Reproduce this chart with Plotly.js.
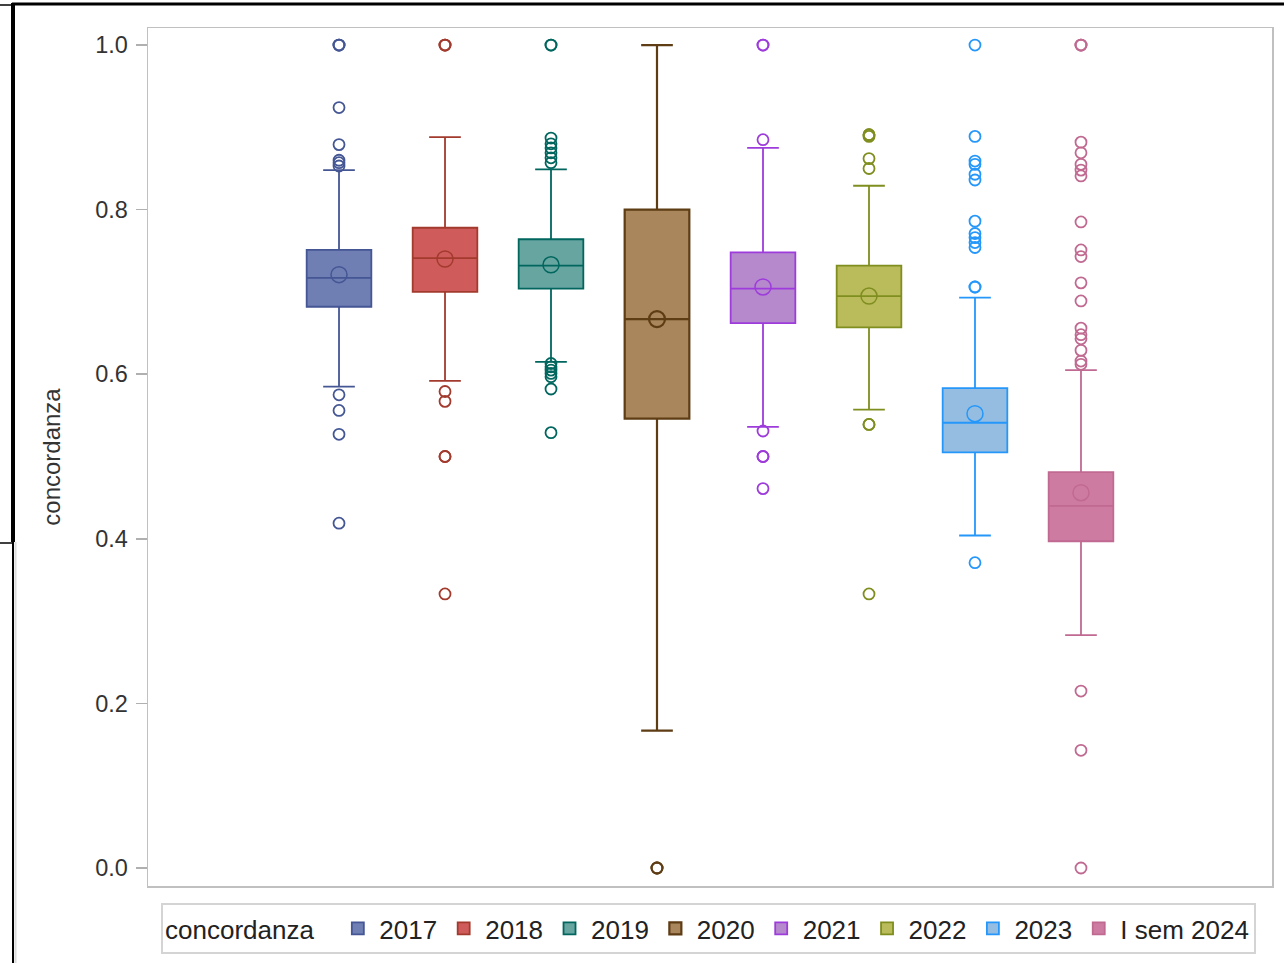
<!DOCTYPE html>
<html>
<head>
<meta charset="utf-8">
<script src="https://cdn.plot.ly/plotly-3.0.1.min.js"></script>
<style>
  html, body { margin: 0; padding: 0; background: #fff; }
  #chart { width: 1284px; height: 963px; }
</style>
</head>
<body>
<div id="chart"></div>
<script>
// Groups (one box per period)
const years = ['2017', '2018', '2019', '2020', '2021', '2022', '2023', 'I sem 2024'];

// Box statistics per group
const q1        = [0.682, 0.700, 0.704, 0.546, 0.662, 0.657, 0.505, 0.397];
const median    = [0.717, 0.741, 0.732, 0.667, 0.704, 0.695, 0.541, 0.440];
const q3        = [0.751, 0.778, 0.764, 0.800, 0.748, 0.732, 0.583, 0.481];
const lowFence  = [0.585, 0.592, 0.615, 0.167, 0.536, 0.557, 0.404, 0.283];
const highFence = [0.848, 0.888, 0.849, 1.000, 0.875, 0.829, 0.693, 0.605];
const means     = [0.721, 0.740, 0.733, 0.667, 0.706, 0.695, 0.552, 0.456];

// Outlying observations per group
const out2017 = [1.0, 1.0, 1.0, 0.924, 0.879, 0.860, 0.857, 0.853, 0.575, 0.556, 0.527, 0.419];
const out2018 = [1.0, 1.0, 1.0, 0.579, 0.567, 0.500, 0.500, 0.333];
const out2019 = [1.0, 1.0, 0.887, 0.880, 0.875, 0.869, 0.863, 0.857, 0.613, 0.609, 0.605, 0.601, 0.597, 0.582, 0.529];
const out2020 = [0.0, 0.0, 0.0];
const out2021 = [1.0, 1.0, 0.885, 0.531, 0.500, 0.500, 0.461];
const out2022 = [0.891, 0.891, 0.889, 0.862, 0.850, 0.539, 0.539, 0.333];
const out2023 = [1.0, 0.889, 0.859, 0.855, 0.843, 0.836, 0.786, 0.771, 0.766, 0.760, 0.754, 0.706, 0.706, 0.371];
const out2024 = [1.0, 1.0, 1.0, 0.882, 0.869, 0.855, 0.848, 0.841, 0.785, 0.751, 0.743, 0.711, 0.689, 0.656, 0.648, 0.643, 0.629, 0.616, 0.612, 0.215, 0.143, 0.0];
const outliers = [out2017, out2018, out2019, out2020, out2021, out2022, out2023, out2024];

// Palette: fill and outline per group
const fillColors = ['#6F7EB3', '#D05B5B', '#66A5A0', '#A9865B', '#B689CD', '#BABC5C', '#94BDE1', '#CD7BA1'];
const lineColors = ['#445694', '#A23A2E', '#01665E', '#5E3C14', '#9D3CDB', '#7F8E1F', '#2597FA', '#C06A92'];

const traces = [];

// Boxes with whiskers and caps
years.forEach((yr, i) => {
  traces.push({
    type: 'box',
    name: yr,
    x: [yr],
    q1: [q1[i]],
    median: [median[i]],
    q3: [q3[i]],
    lowerfence: [lowFence[i]],
    upperfence: [highFence[i]],
    width: 0.61,
    whiskerwidth: 0.49,
    boxpoints: false,
    fillcolor: fillColors[i],
    line: { color: lineColors[i], width: i === 3 ? 2.2 : 1.8 },
    hoverinfo: 'skip'
  });
});

// Mean markers (open circles)
years.forEach((yr, i) => {
  traces.push({
    type: 'scatter',
    mode: 'markers',
    x: [yr],
    y: [means[i]],
    showlegend: false,
    hoverinfo: 'skip',
    marker: { symbol: 'circle-open', size: 16, line: { color: lineColors[i], width: i === 3 ? 2.2 : 1.5 }, color: lineColors[i] }
  });
});

// Outlier markers (open circles)
years.forEach((yr, i) => {
  traces.push({
    type: 'scatter',
    mode: 'markers',
    x: outliers[i].map(() => yr),
    y: outliers[i],
    showlegend: false,
    hoverinfo: 'skip',
    marker: { symbol: 'circle-open', size: 11, line: { color: lineColors[i], width: 1.8 }, color: lineColors[i] }
  });
});

// Page frame drawn in pixel units, converted to paper coordinates
const W = 1284, H = 963, ML = 148, MR = 12, MT = 28, MB = 77;
const PW = W - ML - MR, PH = H - MT - MB;
const px = v => (v - ML) / PW;
const py = v => (H - MB - v) / PH;
function seg(x0, y0, x1, y1, color, width) {
  return { type: 'line', xref: 'paper', yref: 'paper', x0: px(x0), y0: py(y0), x1: px(x1), y1: py(y1),
           line: { color: color, width: width }, layer: 'above' };
}
const frame = [
  seg(0, 5, 13, 5, '#000', 1.5),
  seg(12, 4, 1284, 4, '#000', 3),
  seg(13, 3, 13, 542, '#000', 4),
  seg(0, 543, 13, 543, '#000', 1.5),
  seg(13, 542, 13, 963, '#000', 2),
  seg(15.5, 542, 15.5, 963, '#dcdcdc', 2)
];

const layout = {
  width: W,
  height: H,
  margin: { l: ML, r: MR, t: MT, b: MB, pad: 0, autoexpand: false },
  paper_bgcolor: '#ffffff',
  plot_bgcolor: '#ffffff',
  font: { family: '"Liberation Sans", Arial, sans-serif', color: '#333333', size: 22 },
  showlegend: true,
  boxmode: 'overlay',
  xaxis: {
    type: 'category',
    range: [-1.802, 8.802],
    showticklabels: false,
    ticks: '',
    showgrid: false,
    zeroline: false,
    showline: true,
    mirror: true,
    linecolor: '#c0c0c0',
    linewidth: 1.5,
    fixedrange: true
  },
  yaxis: {
    range: [-0.0219, 1.0207],
    tickvals: [0, 0.2, 0.4, 0.6, 0.8, 1.0],
    tickformat: '.1f',
    ticks: 'outside',
    ticklen: 11,
    tickwidth: 1.5,
    tickcolor: '#b0b0b0',
    ticklabelstandoff: 3,
    tickfont: { size: 23.5, color: '#333333' },
    showgrid: false,
    zeroline: false,
    showline: true,
    mirror: true,
    linecolor: '#c0c0c0',
    linewidth: 1.5,
    automargin: false,
    title: { text: 'concordanza', font: { size: 24, color: '#333333' }, standoff: 27 },
    fixedrange: true
  },
  legend: {
    orientation: 'h',
    x: px(161),
    xanchor: 'left',
    y: py(903),
    yanchor: 'top',
    bgcolor: '#ffffff',
    bordercolor: '#d4d4d4',
    borderwidth: 2,
    font: { size: 26, color: '#222222' },
    title: { text: 'concordanza\u00a0\u00a0', side: 'left', font: { size: 26, color: '#222222' } },
    itemwidth: 33,
    traceorder: 'normal'
  },
  shapes: frame
};

Plotly.newPlot('chart', traces, layout, { displayModeBar: false, staticPlot: true });
</script>
</body>
</html>
